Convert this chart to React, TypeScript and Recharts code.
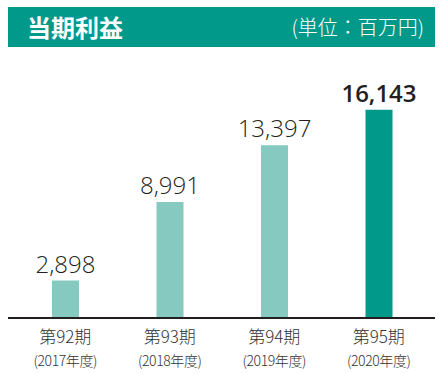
import React from "react";
import { BarChart, Bar, XAxis, YAxis, Cell, LabelList } from "recharts";

const periods = ["第92期", "第93期", "第94期", "第95期"];
const years = ["(2017年度)", "(2018年度)", "(2019年度)", "(2020年度)"];
const profits = [2898, 8991, 13397, 16143];
const barColors = ["#85c9c0", "#85c9c0", "#85c9c0", "#00998a"];

const data = periods.map((p, i) => ({ period: p, year: years[i], value: profits[i] }));

const Tick = (props: any) => {
  const { x, payload, index } = props;
  return (
    <g>
      <text x={x} y={318 + 25} textAnchor="middle" fontSize={17} fontWeight={300} fill="#333" fontFamily="'Noto Sans CJK JP', sans-serif">
        {payload.value}
      </text>
      <text x={x} y={318 + 48} textAnchor="middle" fontSize={14} fontWeight={300} letterSpacing={-0.4} fill="#333" fontFamily="'Noto Sans CJK JP', sans-serif">
        {years[index]}
      </text>
    </g>
  );
};

const ValueLabel = (props: any) => {
  const { x, y, width, value, index } = props;
  const last = index === profits.length - 1;
  return (
    <text
      x={x + width / 2}
      y={y - 8}
      textAnchor="middle"
      fontSize={24}
      fontWeight={last ? 600 : 300}
      fill="#231f20"
      fontFamily="'Open Sans', sans-serif"
    >
      {Number(value).toLocaleString("en-US")}
    </text>
  );
};

export default function App() {
  return (
    <div style={{ position: "absolute", left: 0, top: 0, width: 441, height: 374, background: "#fff" }}>
      <div
        style={{
          position: "absolute",
          left: 8,
          top: 7,
          width: 427,
          height: 40,
          background: "#00998a",
          color: "#fff",
          fontFamily: "'Noto Sans CJK JP', sans-serif",
        }}
      >
        <span style={{ position: "absolute", left: 19, top: 3, fontSize: 24, fontWeight: 700, lineHeight: "34px" }}>当期利益</span>
        <span style={{ position: "absolute", right: 11, top: 4, fontSize: 20, fontWeight: 300, lineHeight: "32px" }}>(単位：百万円)</span>
      </div>
      <BarChart width={441} height={374} data={data} margin={{ top: 60, right: 6, left: 8, bottom: 0 }}>
        <YAxis hide domain={[0, 20000]} />
        <XAxis
          dataKey="period"
          height={56}
          axisLine={{ stroke: "#231f20", strokeWidth: 2 }}
          tickLine={false}
          tick={<Tick />}
          padding={{ left: 5, right: 4 }}
          interval={0}
        />
        <Bar dataKey="value" barSize={27} isAnimationActive={false}>
          {data.map((d, i) => (
            <Cell key={i} fill={barColors[i]} />
          ))}
          <LabelList dataKey="value" content={<ValueLabel />} />
        </Bar>
      </BarChart>
    </div>
  );
}
